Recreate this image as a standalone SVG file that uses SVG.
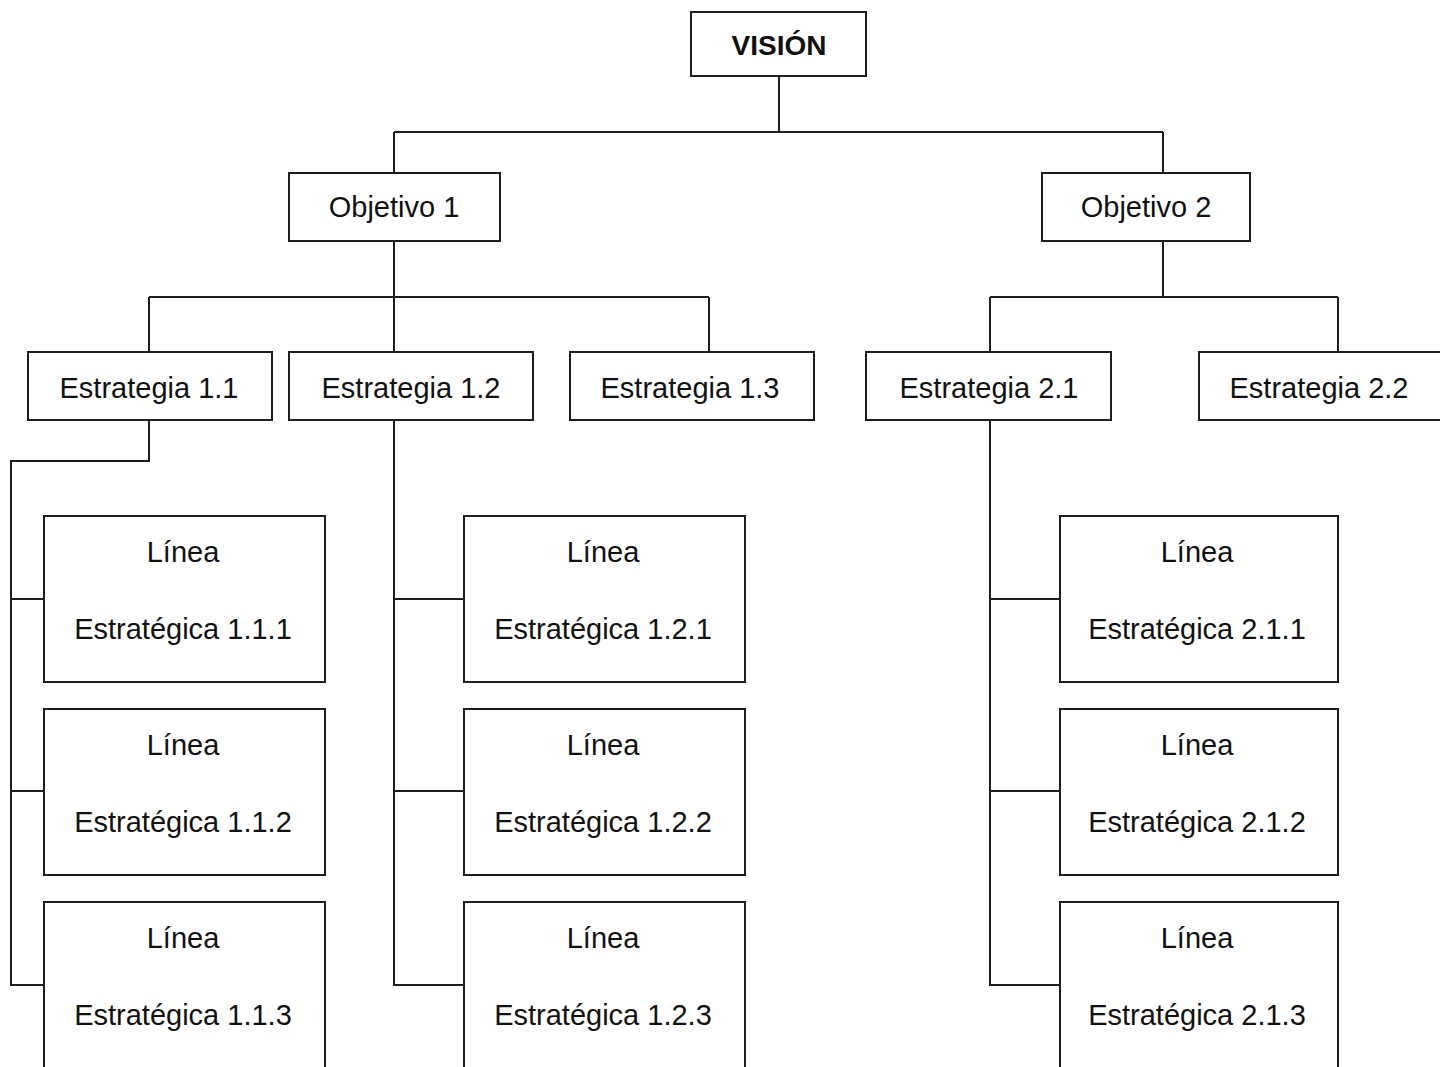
<svg xmlns="http://www.w3.org/2000/svg" width="1440" height="1067" viewBox="0 0 1440 1067">
  <style>
    .box { fill: #ffffff; stroke: #1e1e1e; stroke-width: 2; }
    .wire { fill: none; stroke: #1e1e1e; stroke-width: 2; }
    .lbl { font-family: "Liberation Sans", Arial, sans-serif; font-size: 29px; fill: #111111; text-anchor: middle; }
    .title { font-family: "Liberation Sans", Arial, sans-serif; font-size: 28px; font-weight: bold; fill: #111111; text-anchor: middle; }
  </style>
  <rect width="1440" height="1067" fill="#ffffff"/>

  <g id="connectors">
    <!-- vision to objectives -->
    <path class="wire" d="M779 76 V132 M394 132 H1163 M394 132 V173 M1163 132 V173"/>
    <!-- objective 1 to strategies -->
    <path class="wire" d="M394 241 V297 M149 297 H709 M149 297 V352 M394 297 V352 M709 297 V352"/>
    <!-- objective 2 to strategies -->
    <path class="wire" d="M1163 241 V297 M990 297 H1338 M990 297 V352 M1338 297 V352"/>
    <!-- strategy 1.1 to its lines -->
    <path class="wire" d="M149 420 V461 H11 V985 H44 M11 599 H44 M11 791 H44"/>
    <!-- strategy 1.2 to its lines -->
    <path class="wire" d="M394 420 V985 H464 M394 599 H464 M394 791 H464"/>
    <!-- strategy 2.1 to its lines -->
    <path class="wire" d="M990 420 V985 H1060 M990 599 H1060 M990 791 H1060"/>
  </g>

  <g id="vision">
    <rect class="box" x="691" y="12" width="175" height="64"/>
    <text class="title" x="779" y="55">VISIÓN</text>
  </g>

  <g id="objetivo-1">
    <rect class="box" x="289" y="173" width="211" height="68"/>
    <text class="lbl" x="394" y="217">Objetivo 1</text>
  </g>
  <g id="objetivo-2">
    <rect class="box" x="1042" y="173" width="208" height="68"/>
    <text class="lbl" x="1146" y="217">Objetivo 2</text>
  </g>

  <g id="estrategia-1-1">
    <rect class="box" x="28" y="352" width="244" height="68"/>
    <text class="lbl" x="149" y="398">Estrategia 1.1</text>
  </g>
  <g id="estrategia-1-2">
    <rect class="box" x="289" y="352" width="244" height="68"/>
    <text class="lbl" x="411" y="398">Estrategia 1.2</text>
  </g>
  <g id="estrategia-1-3">
    <rect class="box" x="570" y="352" width="244" height="68"/>
    <text class="lbl" x="690" y="398">Estrategia 1.3</text>
  </g>
  <g id="estrategia-2-1">
    <rect class="box" x="866" y="352" width="245" height="68"/>
    <text class="lbl" x="989" y="398">Estrategia 2.1</text>
  </g>
  <g id="estrategia-2-2">
    <rect class="box" x="1199" y="352" width="260" height="68"/>
    <text class="lbl" x="1319" y="398">Estrategia 2.2</text>
  </g>

  <!-- strategic lines, column 1.1 -->
  <g id="linea-1-1-1">
    <rect class="box" x="44" y="516" width="281" height="166"/>
    <text class="lbl" x="183" y="562">Línea</text>
    <text class="lbl" x="183" y="639">Estratégica 1.1.1</text>
  </g>
  <g id="linea-1-1-2">
    <rect class="box" x="44" y="709" width="281" height="166"/>
    <text class="lbl" x="183" y="755">Línea</text>
    <text class="lbl" x="183" y="832">Estratégica 1.1.2</text>
  </g>
  <g id="linea-1-1-3">
    <rect class="box" x="44" y="902" width="281" height="180"/>
    <text class="lbl" x="183" y="948">Línea</text>
    <text class="lbl" x="183" y="1025">Estratégica 1.1.3</text>
  </g>

  <!-- strategic lines, column 1.2 -->
  <g id="linea-1-2-1">
    <rect class="box" x="464" y="516" width="281" height="166"/>
    <text class="lbl" x="603" y="562">Línea</text>
    <text class="lbl" x="603" y="639">Estratégica 1.2.1</text>
  </g>
  <g id="linea-1-2-2">
    <rect class="box" x="464" y="709" width="281" height="166"/>
    <text class="lbl" x="603" y="755">Línea</text>
    <text class="lbl" x="603" y="832">Estratégica 1.2.2</text>
  </g>
  <g id="linea-1-2-3">
    <rect class="box" x="464" y="902" width="281" height="180"/>
    <text class="lbl" x="603" y="948">Línea</text>
    <text class="lbl" x="603" y="1025">Estratégica 1.2.3</text>
  </g>

  <!-- strategic lines, column 2.1 -->
  <g id="linea-2-1-1">
    <rect class="box" x="1060" y="516" width="278" height="166"/>
    <text class="lbl" x="1197" y="562">Línea</text>
    <text class="lbl" x="1197" y="639">Estratégica 2.1.1</text>
  </g>
  <g id="linea-2-1-2">
    <rect class="box" x="1060" y="709" width="278" height="166"/>
    <text class="lbl" x="1197" y="755">Línea</text>
    <text class="lbl" x="1197" y="832">Estratégica 2.1.2</text>
  </g>
  <g id="linea-2-1-3">
    <rect class="box" x="1060" y="902" width="278" height="180"/>
    <text class="lbl" x="1197" y="948">Línea</text>
    <text class="lbl" x="1197" y="1025">Estratégica 2.1.3</text>
  </g>
</svg>
